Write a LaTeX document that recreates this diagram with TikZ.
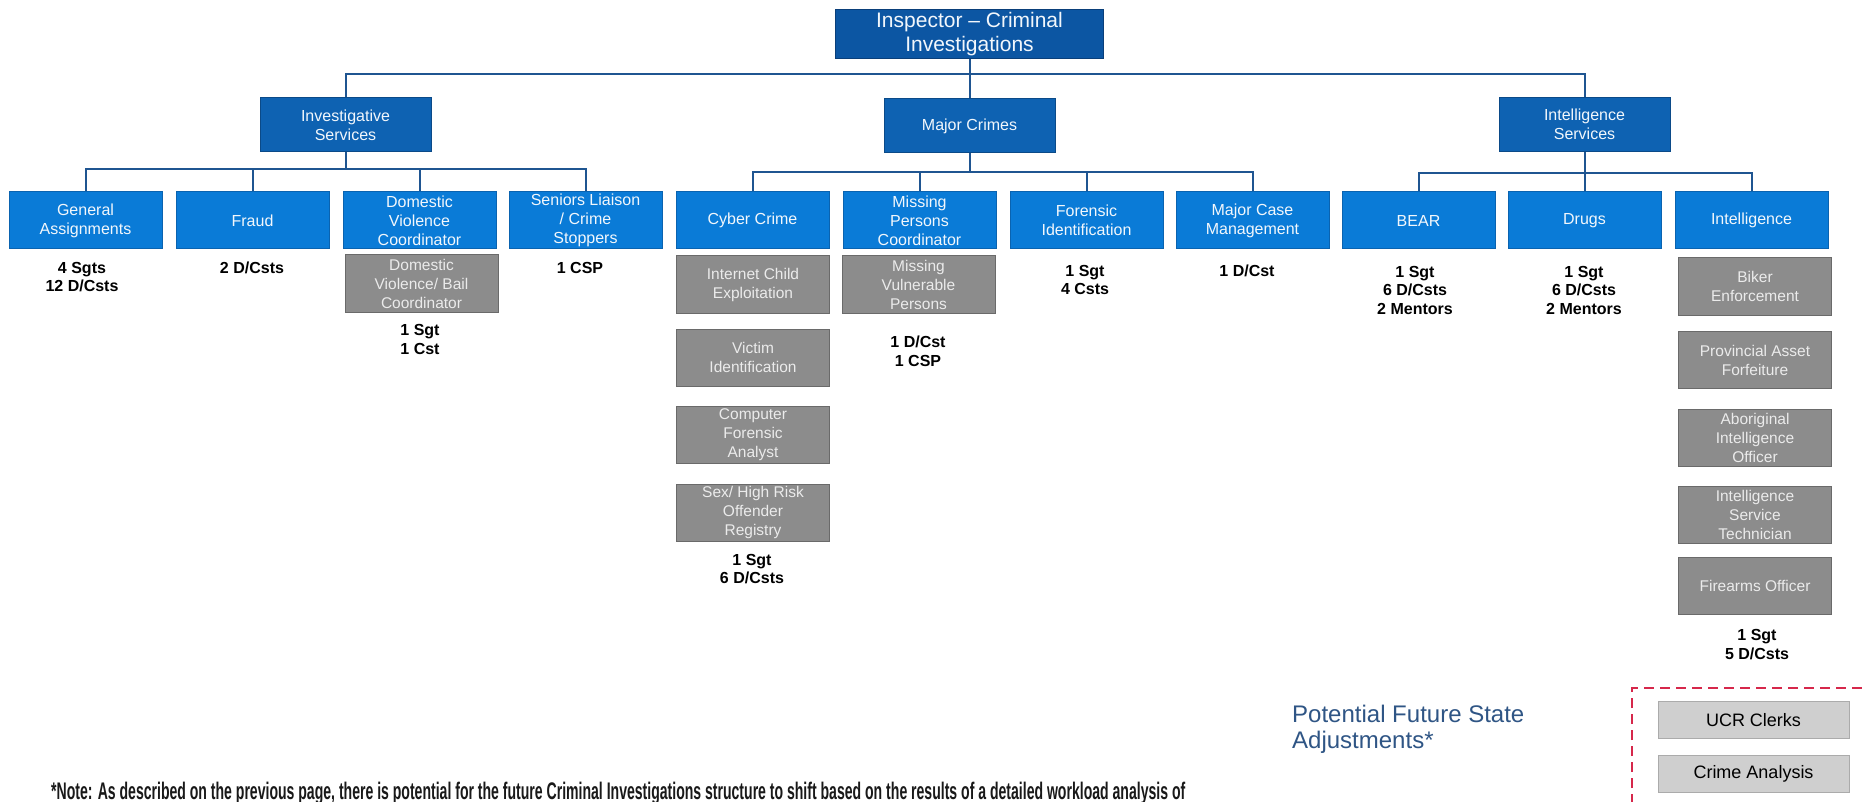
\documentclass[tikz,border=0pt]{standalone}
\usepackage{fontspec}
\setmainfont{Liberation Sans}
\usepackage{graphicx}
\usetikzlibrary{calc}
\definecolor{inspfill}{HTML}{0C56A3}
\definecolor{inspdraw}{HTML}{0A3F7A}
\definecolor{midfill}{HTML}{0E62B2}
\definecolor{middraw}{HTML}{0B4A88}
\definecolor{leaffill}{HTML}{0A7BD7}
\definecolor{leafdraw}{HTML}{0A63B0}
\definecolor{grayfill}{HTML}{8C8C8C}
\definecolor{graydraw}{HTML}{6A6A6A}
\definecolor{lightfill}{HTML}{CFCFCF}
\definecolor{lightdraw}{HTML}{ABABAB}
\definecolor{connclr}{HTML}{1F5591}
\definecolor{pfsclr}{HTML}{2F5585}
\definecolor{dashclr}{HTML}{D6284B}
\definecolor{boxtext}{HTML}{F2F7FC}
\begin{document}
\begin{tikzpicture}[x=1pt,y=-1pt,
  insp/.style={draw=inspdraw,fill=inspfill,line width=1pt,minimum width=268pt,minimum height=49pt,inner sep=0pt,align=center,text=boxtext,font=\fontsize{21}{24}\selectfont},
  mid/.style={draw=middraw,fill=midfill,line width=1pt,minimum width=171pt,minimum height=54pt,inner sep=0pt,align=center,text=boxtext,font=\fontsize{16}{19}\selectfont},
  leaf/.style={draw=leafdraw,fill=leaffill,line width=1pt,minimum width=153pt,minimum height=57pt,inner sep=0pt,align=center,text=boxtext,font=\fontsize{16}{19}\selectfont},
  grey/.style={draw=graydraw,fill=grayfill,line width=1pt,minimum width=153pt,minimum height=57pt,inner sep=0pt,align=center,text=white!92!black,font=\fontsize{15.5}{19}\selectfont},
  light/.style={draw=lightdraw,fill=lightfill,line width=1pt,minimum width=191pt,minimum height=37pt,inner sep=0pt,align=center,text=black,font=\fontsize{18}{20}\selectfont},
  staff/.style={anchor=north,inner sep=0pt,align=center,font=\fontsize{16}{18.5}\selectfont\bfseries},
  conn/.style={draw=connclr,line width=2pt}]
\useasboundingbox (0,0) rectangle (1868,802);
\fill[white] (0,0) rectangle (1868,802);
\clip (0,0) rectangle (1868,802);

% top levels
\node[insp] (insp) at (969.5,34.5) {Inspector -- Criminal\\Investigations};
\node[mid] (is) at (345.5,125) {Investigative\\Services};
\node[mid] (mc) at (969.5,126) {Major Crimes};
\node[mid] (ints) at (1584.5,124.5) {Intelligence\\Services};

% leaves
\node[leaf] (ga) at (85.5,220.5) {General\\Assignments};
\node[leaf] (fr) at (252.5,220.5) {Fraud};
\node[leaf] (dvc) at (419.5,220.5) {Domestic\\Violence\\Coordinator};
\node[leaf] (sl) at (585.5,220.5) {Seniors Liaison\\/ Crime\\Stoppers};
\node[leaf] (cc) at (752.5,220.5) {Cyber Crime};
\node[leaf] (mp) at (919.5,220.5) {Missing\\Persons\\Coordinator};
\node[leaf] (fi) at (1086.5,220.5) {Forensic\\Identification};
\node[leaf] (mcm) at (1252.5,220.5) {Major Case\\Management};
\node[leaf] (bear) at (1418.5,220.5) {BEAR};
\node[leaf] (drugs) at (1584.5,220.5) {Drugs};
\node[leaf] (intel) at (1751.5,220.5) {Intelligence};

% grey boxes
\node[grey] (dvb) at (421.5,283.5) {Domestic\\Violence/ Bail\\Coordinator};
\node[grey] (ice) at (753,284.5) {Internet Child\\Exploitation};
\node[grey] (vi) at (753,357.5) {Victim\\Identification};
\node[grey] (cfa) at (753,435) {Computer\\Forensic\\Analyst};
\node[grey] (sho) at (753,512.5) {Sex/ High Risk\\Offender\\Registry};
\node[grey] (mvp) at (918.5,284.5) {Missing\\Vulnerable\\Persons};
\node[grey] (be) at (1755,286.5) {Biker\\Enforcement};
\node[grey] (paf) at (1755,360) {Provincial Asset\\Forfeiture};
\node[grey] (aio) at (1755,437.5) {Aboriginal\\Intelligence\\Officer};
\node[grey] (ist) at (1755,515) {Intelligence\\Service\\Technician};
\node[grey] (fo) at (1755,586) {Firearms Officer};

% staff counts
\node[staff] (s1) at (82,262) {4 Sgts\\12 D/Csts};
\node[staff] (s2) at (252,262) {2 D/Csts};
\node[staff] (s3) at (420,324.5) {1 Sgt\\1 Cst};
\node[staff] (s4) at (580,262) {1 CSP};
\node[staff] (s5) at (752,554) {1 Sgt\\6 D/Csts};
\node[staff] (s6) at (918,336) {1 D/Cst\\1 CSP};
\node[staff] (s7) at (1085,265) {1 Sgt\\4 Csts};
\node[staff] (s8) at (1247,265) {1 D/Cst};
\node[staff] (s9) at (1415,266) {1 Sgt\\6 D/Csts\\2 Mentors};
\node[staff] (s10) at (1584,266) {1 Sgt\\6 D/Csts\\2 Mentors};
\node[staff] (s11) at (1757,629.5) {1 Sgt\\5 D/Csts};

% connectors
\coordinate (topbus) at (969.5,74);
\draw[conn] (is.north) |- (topbus) -| (ints.north);
\draw[conn] (insp.south) -- (mc.north);

\coordinate (isbus) at (345.5,169);
\draw[conn] (is.south) -- (isbus);
\draw[conn] (isbus) -| (ga.north);
\draw[conn] (isbus) -| (fr.north);
\draw[conn] (isbus) -| (dvc.north);
\draw[conn] (isbus) -| (sl.north);

\coordinate (mcbus) at (969.5,172);
\draw[conn] (mc.south) -- (mcbus);
\draw[conn] (mcbus) -| (cc.north);
\draw[conn] (mcbus) -| (mp.north);
\draw[conn] (mcbus) -| (fi.north);
\draw[conn] (mcbus) -| (mcm.north);

\coordinate (intbus) at (1584.5,173);
\draw[conn] (ints.south) -- (intbus);
\draw[conn] (intbus) -| (bear.north);
\draw[conn] (intbus) -| (drugs.north);
\draw[conn] (intbus) -| (intel.north);

% potential future state
\node[anchor=base west,inner sep=0pt,align=left,text=pfsclr,font=\fontsize{24}{26}\selectfont] (pfs) at (1292,748) {Potential Future State\\Adjustments*};
\draw[draw=dashclr,line width=2pt,dash pattern=on 10pt off 6pt] (1632,820) -- (1632,688) -- (1880,688);
\node[light] (ucr) at (1753.5,720) {UCR Clerks};
\node[light] (ca) at (1753.5,774) {Crime Analysis};

% note
\node[anchor=base west,inner sep=0pt,text=black!90] (note) at (51,799) {\resizebox{1134pt}{\height}{\fontsize{24}{24}\selectfont\bfseries *Note: As described on the previous page, there is potential for the future Criminal Investigations structure to shift based on the results of a detailed workload analysis of}};
\end{tikzpicture}
\end{document}
